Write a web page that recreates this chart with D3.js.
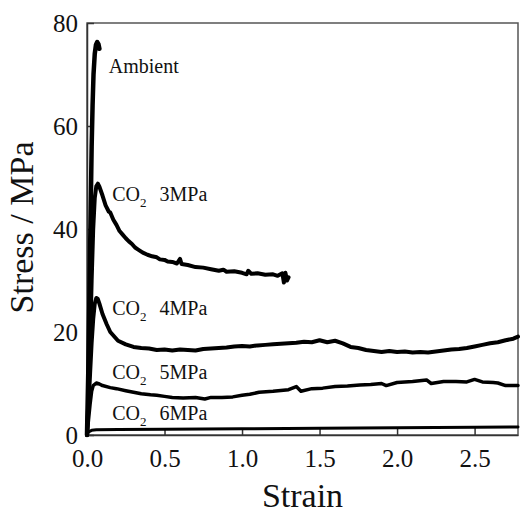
<!DOCTYPE html>
<html>
<head>
<meta charset="utf-8">
<script src="https://cdn.jsdelivr.net/npm/d3@7"></script>
<style>
  body { margin: 0; background: #fff; }
</style>
</head>
<body>
<div class="chart"></div>
<script>
/* CONSTANTS */
const width = 521,
  height = 513,
  margin = { top: 23, bottom: 78, left: 87, right: 3 },
  serif = "'Liberation Serif', 'Times New Roman', Times, serif";

/* DATA */
const ambientStrain = [0, 0.008, 0.016, 0.024, 0.03, 0.036, 0.042, 0.05, 0.058, 0.066, 0.074, 0.08];
const ambientStress = [0, 12, 28, 44, 56, 64, 70, 74, 75.8, 76.3, 75.9, 75.0];

const co2_3Strain = [0, 0.01, 0.02, 0.03, 0.04, 0.05, 0.06, 0.07, 0.08, 0.1, 0.12, 0.14, 0.15, 0.17, 0.19, 0.21, 0.23, 0.25, 0.27, 0.29, 0.31, 0.33, 0.36, 0.39, 0.42, 0.45, 0.47, 0.5, 0.52, 0.55, 0.58, 0.6, 0.61, 0.65, 0.7, 0.75, 0.8, 0.85, 0.88, 0.9, 0.95, 1.0, 1.03, 1.04, 1.06, 1.1, 1.15, 1.2, 1.23, 1.26, 1.27, 1.28, 1.29, 1.3];
const co2_3Stress = [0, 8, 18, 30, 40, 46, 48.3, 48.8, 48.2, 46.5, 44.6, 43.4, 43.2, 41.8, 40.8, 39.6, 38.9, 38.2, 37.6, 37.1, 36.4, 36.0, 35.4, 35.0, 34.7, 34.5, 34.1, 34.0, 33.7, 33.6, 33.3, 34.2, 33.2, 33.0, 32.6, 32.5, 32.2, 31.9, 32.1, 31.7, 31.8, 31.5, 31.2, 31.9, 31.3, 31.4, 31.1, 31.2, 30.9, 31.4, 29.6, 31.5, 30.0, 30.6];

const co2_4Strain = [0, 0.01, 0.02, 0.03, 0.04, 0.05, 0.06, 0.07, 0.08, 0.1, 0.127, 0.15, 0.2, 0.25, 0.3, 0.35, 0.4, 0.45, 0.5, 0.55, 0.6, 0.65, 0.7, 0.75, 0.8, 0.85, 0.9, 0.95, 1.0, 1.05, 1.1, 1.15, 1.2, 1.25, 1.3, 1.35, 1.4, 1.45, 1.5, 1.55, 1.6, 1.65, 1.7, 1.75, 1.8, 1.85, 1.9, 1.95, 2.0, 2.05, 2.1, 2.15, 2.2, 2.25, 2.3, 2.35, 2.4, 2.45, 2.5, 2.55, 2.6, 2.65, 2.7, 2.75, 2.78];
const co2_4Stress = [0, 6, 12, 18, 22.5, 25.5, 26.6, 26.4, 25.5, 23.5, 21.5, 20.0, 18.3, 17.6, 17.1, 16.9, 16.8, 16.5, 16.6, 16.4, 16.6, 16.5, 16.4, 16.7, 16.8, 16.9, 17.0, 17.2, 17.3, 17.2, 17.4, 17.5, 17.6, 17.7, 17.8, 17.9, 18.1, 18.0, 18.4, 18.0, 18.3, 17.8, 17.1, 16.9, 16.5, 16.3, 16.1, 16.3, 16.1, 16.2, 16.0, 16.1, 16.0, 16.2, 16.4, 16.6, 16.7, 16.9, 17.2, 17.5, 17.8, 18.0, 18.4, 18.7, 19.1];

const co2_5Strain = [0, 0.01, 0.02, 0.03, 0.04, 0.06, 0.08, 0.1, 0.15, 0.19, 0.25, 0.3, 0.35, 0.41, 0.45, 0.5, 0.55, 0.62, 0.7, 0.76, 0.8, 0.87, 0.94, 1.0, 1.05, 1.11, 1.2, 1.3, 1.35, 1.38, 1.45, 1.52, 1.6, 1.68, 1.76, 1.83, 1.9, 1.93, 2.0, 2.1, 2.19, 2.22, 2.3, 2.38, 2.45, 2.5, 2.55, 2.62, 2.65, 2.7, 2.78];
const co2_5Stress = [0, 3, 6, 8.5, 9.6, 10.1, 9.9, 9.6, 9.2, 9.0, 8.6, 8.3, 8.0, 7.8, 7.7, 7.5, 7.3, 7.2, 7.3, 7.0, 7.3, 7.3, 7.4, 7.7, 7.9, 8.3, 8.5, 8.8, 9.4, 8.5, 9.0, 9.1, 9.4, 9.5, 9.7, 9.8, 10.0, 9.6, 10.2, 10.4, 10.7, 10.0, 10.4, 10.4, 10.3, 10.8, 10.3, 10.2, 10.1, 9.6, 9.6];

const co2_6Strain = [0, 0.01, 0.03, 0.06, 0.2, 0.5, 1.0, 1.5, 2.0, 2.5, 2.78];
const co2_6Stress = [0, 0.6, 0.9, 1.0, 1.05, 1.1, 1.2, 1.3, 1.4, 1.5, 1.55];

const xTicks = [0, 0.5, 1.0, 1.5, 2.0, 2.5];
const yTicks = [0, 20, 40, 60, 80];

// label text, anchor strain, anchor stress
const labelNames = ["Ambient", "3MPa", "4MPa", "5MPa", "6MPa"];
const labelStrain = [0.14, 0.163, 0.163, 0.163, 0.163];
const labelStress = [70.3, 45.5, 23.3, 10.9, 2.9];

const series = [
  { strain: ambientStrain, stress: ambientStress, w: 4.5 },
  { strain: co2_3Strain, stress: co2_3Stress, w: 4 },
  { strain: co2_4Strain, stress: co2_4Stress, w: 4 },
  { strain: co2_5Strain, stress: co2_5Stress, w: 3.5 },
  { strain: co2_6Strain, stress: co2_6Stress, w: 3 }
];

/* SCALES */
const xScale = d3.scaleLinear()
  .domain([0, 2.78])
  .range([margin.left, width - margin.right]);

const yScale = d3.scaleLinear()
  .domain([0, 80])
  .range([height - margin.bottom, margin.top]);

const svg = d3.select(".chart")
  .append("svg")
  .attr("width", width)
  .attr("height", height);

// frame (top and right)
svg.append("rect")
  .attr("x", margin.left)
  .attr("y", margin.top)
  .attr("width", width - margin.left - margin.right)
  .attr("height", height - margin.top - margin.bottom)
  .attr("fill", "none")
  .attr("stroke", "#555")
  .attr("stroke-width", 1.5);

// axes, ticks point inward
const xAxis = d3.axisBottom(xScale)
  .tickValues(xTicks)
  .tickFormat(d3.format(".1f"))
  .tickSizeInner(-7)
  .tickSizeOuter(0)
  .tickPadding(14);

const yAxis = d3.axisLeft(yScale)
  .tickValues(yTicks)
  .tickFormat(d3.format("d"))
  .tickSizeInner(-7)
  .tickSizeOuter(0)
  .tickPadding(9);

const gx = svg.append("g")
  .attr("transform", `translate(0, ${height - margin.bottom})`)
  .call(xAxis);

const gy = svg.append("g")
  .attr("transform", `translate(${margin.left}, 0)`)
  .call(yAxis);

[gx, gy].forEach(g => {
  g.selectAll("path, line").attr("stroke", "#333").attr("stroke-width", 1.5);
  g.selectAll("text")
    .style("font-family", serif)
    .style("font-size", "25px")
    .attr("fill", "#111");
});
gx.selectAll("text").attr("dy", "0.71em");

// axis titles
svg.append("text")
  .text("Strain")
  .attr("x", xScale(1.39))
  .attr("y", 507)
  .attr("text-anchor", "middle")
  .style("font-family", serif)
  .style("font-size", "34px")
  .attr("fill", "#111");

svg.append("text")
  .text("Stress / MPa")
  .attr("transform", `translate(33, ${yScale(40.3)})rotate(-90)`)
  .attr("text-anchor", "middle")
  .style("font-family", serif)
  .style("font-size", "34px")
  .attr("fill", "#111");

/* CURVES */
const lineFunction = d3.line()
  .x(d => xScale(d[0]))
  .y(d => yScale(d[1]));

svg.selectAll("path.curve")
  .data(series)
  .join("path")
  .attr("class", "curve")
  .attr("fill", "none")
  .attr("stroke", "#000")
  .attr("stroke-linejoin", "round")
  .attr("stroke-linecap", "round")
  .attr("stroke-width", d => d.w)
  .attr("d", d => lineFunction(d.strain.map((s, i) => [s, d.stress[i]])));

/* LABELS */
labelNames.forEach((name, i) => {
  const t = svg.append("text")
    .attr("x", xScale(labelStrain[i]))
    .attr("y", yScale(labelStress[i]))
    .style("font-family", serif)
    .style("font-size", "20px")
    .attr("fill", "#111");
  if (i === 0) {
    t.text(name);
  } else {
    t.append("tspan").text("CO");
    t.append("tspan").text("2").style("font-size", "13px").attr("dy", 6);
    t.append("tspan").text(name).attr("dx", 13).attr("dy", -6);
  }
});
</script>
</body>
</html>
